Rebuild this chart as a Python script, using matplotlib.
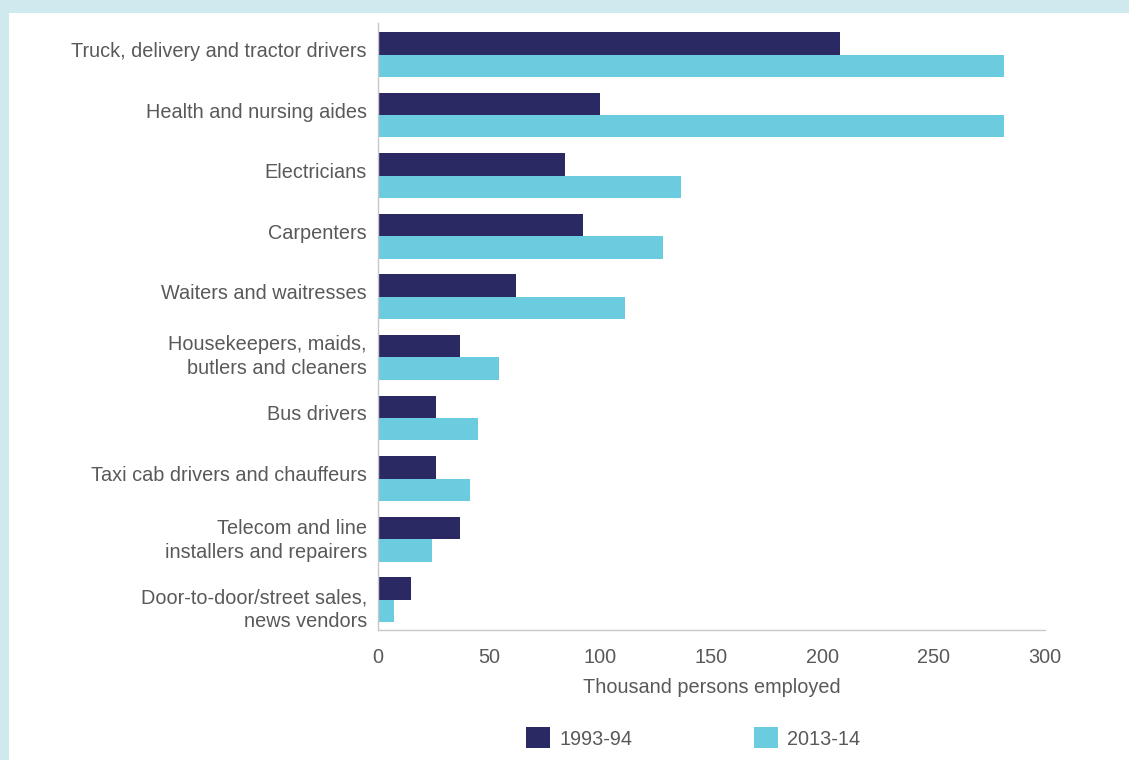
import matplotlib.pyplot as plt
import matplotlib.transforms as mtransforms
import numpy as np
from matplotlib.patches import Rectangle

# Occupations, top to bottom
occupations = [
    "Truck, delivery and tractor drivers",
    "Health and nursing aides",
    "Electricians",
    "Carpenters",
    "Waiters and waitresses",
    "Housekeepers, maids,\nbutlers and cleaners",
    "Bus drivers",
    "Taxi cab drivers and chauffeurs",
    "Telecom and line\ninstallers and repairers",
    "Door-to-door/street sales,\nnews vendors",
]

# Thousand persons employed
emp_1993 = [208, 100, 84, 92, 62, 37, 26, 26, 37, 15]
emp_2013 = [281.5, 281.5, 136.5, 128, 111, 54.5, 45, 41.5, 24.5, 7]

series_labels = ["1993-94", "2013-14"]
x_ticks = [0, 50, 100, 150, 200, 250, 300]

DARK = "#2b2963"
LIGHT = "#6bcbdf"
TEXT = "#595959"
BORDER = "#cfeaee"
FS = 14.3

# small vertical nudges for the category labels (pixels, +up)
label_nudge = [5, 5, 5, 5, 5, 5, 5, 5, 3, -6]

plt.rcParams["font.family"] = ["Liberation Sans", "DejaVu Sans"]

fig = plt.figure(figsize=(11.29, 7.6), dpi=100)
fig.patch.set_facecolor(BORDER)
# white panel inset from the top and left border
fig.patches.append(Rectangle((9 / 1129, 0), 1, 1 - 13 / 760, transform=fig.transFigure,
                             facecolor="white", edgecolor="none", zorder=-10))

ax = fig.add_axes([378 / 1129, 1 - 630 / 760, (1045 - 378) / 1129, (630 - 23) / 760])
ax.set_facecolor("none")

y = np.arange(len(occupations))
h = 0.37
ax.barh(y - h / 2, emp_1993, height=h, color=DARK, label=series_labels[0])
ax.barh(y + h / 2, emp_2013, height=h, color=LIGHT, label=series_labels[1])

ax.set_xlim(0, 300)
ax.set_ylim(9.5, -0.52)
ax.set_xticks(x_ticks)
ax.set_yticks(y)
ax.set_yticklabels(occupations, linespacing=1.31)
ax.tick_params(axis="both", length=0, labelsize=FS, colors=TEXT)
ax.tick_params(axis="x", pad=13)
ax.tick_params(axis="y", pad=8)
ax.set_xlabel("Thousand persons employed", fontsize=FS, color=TEXT, labelpad=8)

for lbl, dy in zip(ax.get_yticklabels(), label_nudge):
    off = mtransforms.ScaledTranslation(0, dy / 100, fig.dpi_scale_trans)
    lbl.set_transform(lbl.get_transform() + off)

for s in ["top", "right"]:
    ax.spines[s].set_visible(False)
for s in ["left", "bottom"]:
    ax.spines[s].set_color("#c8c8c8")
    ax.spines[s].set_linewidth(1)

fig.legend(*ax.get_legend_handles_labels(), loc="center",
           bbox_to_anchor=(693 / 1129, 1 - 738 / 760), ncol=2, frameon=False,
           fontsize=FS, labelcolor=TEXT, handlelength=1.25, handleheight=1.25,
           columnspacing=6.1, handletextpad=0.45)

fig.savefig("out.png", dpi=100, facecolor=fig.get_facecolor())
